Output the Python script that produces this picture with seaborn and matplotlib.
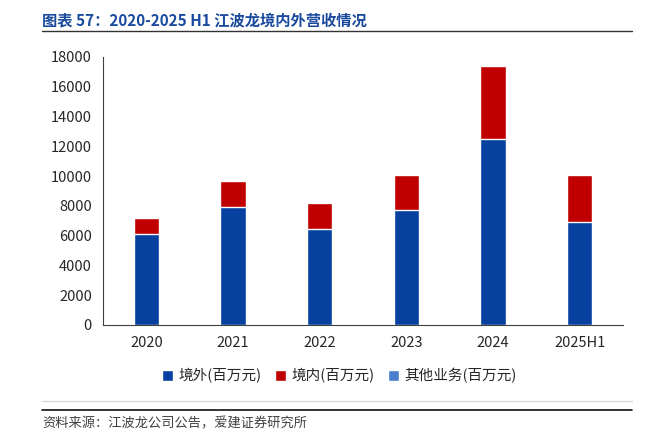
import pandas as pd
import matplotlib
matplotlib.use('Agg')
import matplotlib.pyplot as plt
import seaborn as sns

# Revenue split, values (million yuan)
years = ['2020', '2021', '2022', '2023', '2024', '2025H1']
overseas = [6080, 7910, 6430, 7750, 12470, 6950]
domestic = [1120, 1790, 1790, 2300, 4930, 3150]
other = [50, 50, 50, 40, 40, 40]

sns.set_style('white')
plt.rcParams['font.family'] = ['Noto Sans CJK SC', 'DejaVu Sans']

df = pd.DataFrame({'year': years, 'overseas': overseas,
                   'domestic': domestic, 'other': other})
df['od'] = df['overseas'] + df['domestic']
df['total'] = df['od'] + df['other']

c_blue = '#0641A0'
c_red = '#C00000'
c_light = '#4A7FD0'

fig = plt.figure(figsize=(6.63, 4.47), dpi=100)
ax = fig.add_axes([103 / 663, 1 - 325 / 447, 520 / 663, 268 / 447])

# layered bars give the stacked look
sns.barplot(x='year', y='total', data=df, color=c_light, width=0.29,
            saturation=1, ax=ax, label='其他业务(百万元)')
sns.barplot(x='year', y='od', data=df, color=c_red, width=0.29,
            saturation=1, ax=ax, label='境内(百万元)')
sns.barplot(x='year', y='overseas', data=df, color=c_blue, width=0.29,
            saturation=1, ax=ax, label='境外(百万元)')

ax.set_ylim(0, 18000)
ax.set_yticks(range(0, 18001, 2000))
ax.set_xlim(-0.5, 5.5)
ax.set_xlabel('')
ax.set_ylabel('')
for s in ['top', 'right']:
    ax.spines[s].set_visible(False)
ax.spines['left'].set_color('#404040')
ax.spines['bottom'].set_color('#404040')
ax.tick_params(axis='y', direction='out', length=4, color='#404040',
               labelsize=10.5, labelcolor='#262626', pad=4)
ax.tick_params(axis='x', length=0, labelsize=10.5, labelcolor='#262626', pad=8)

h, l = ax.get_legend_handles_labels()
order = [2, 1, 0]
ax.legend([h[i] for i in order], [l[i] for i in order], loc='center',
          bbox_to_anchor=(0.455, -0.19), ncol=3, frameon=False, fontsize=10.5,
          handlelength=0.75, handleheight=0.75, handletextpad=0.4,
          columnspacing=0.9)

# header and footer
fig.text(42 / 663, 1 - 20 / 447, '图表 57：2020-2025 H1 江波龙境内外营收情况',
         color='#1A4A9E', fontsize=11, fontweight='bold', va='center')
fig.add_artist(plt.Line2D([42 / 663, 632 / 663], [1 - 31 / 447] * 2,
                          color='#333333', lw=1))
fig.add_artist(plt.Line2D([42 / 663, 632 / 663], [1 - 401 / 447] * 2,
                          color='#D9D9D9', lw=1))
fig.add_artist(plt.Line2D([42 / 663, 632 / 663], [1 - 410 / 447] * 2,
                          color='#111111', lw=1.2))
fig.text(42 / 663, 1 - 424 / 447, '资料来源：江波龙公司公告，爱建证券研究所',
         color='#404040', fontsize=9.5, va='center')

fig.savefig('out.png', dpi=100)
